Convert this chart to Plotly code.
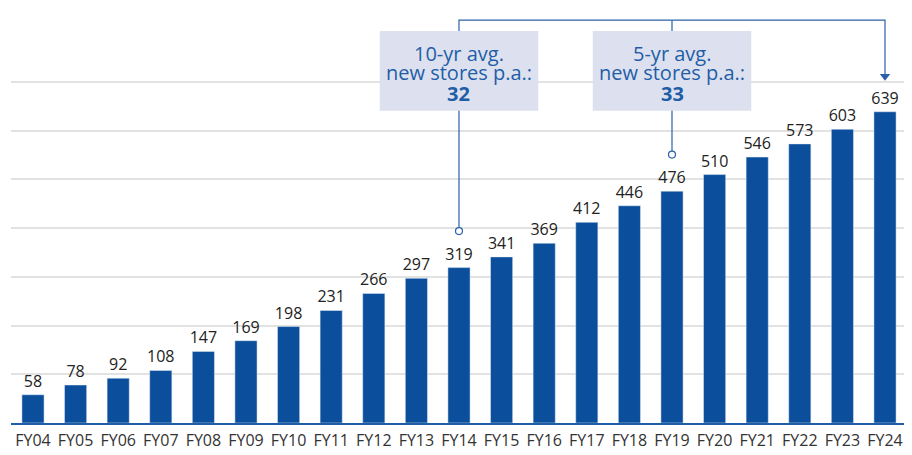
import plotly.graph_objects as go

years = ["FY04","FY05","FY06","FY07","FY08","FY09","FY10","FY11","FY12","FY13","FY14",
         "FY15","FY16","FY17","FY18","FY19","FY20","FY21","FY22","FY23","FY24"]
stores = [58,78,92,108,147,169,198,231,266,297,319,341,369,412,446,476,510,546,573,603,639]

callout_lines = [["10-yr avg.", "new stores p.a.:", "<b>32</b>"],
                 ["5-yr avg.", "new stores p.a.:", "<b>33</b>"]]
callout_years = ["FY14", "FY19"]
arrow_year = "FY24"

BAR = "#0b4f9c"
LINE = "#2a62a8"
TXT_BLUE = "#1f5ea6"
BOX = "#dde1ef"
FONT = "Open Sans"

idx = list(range(len(years)))
fig = go.Figure()
fig.add_trace(go.Bar(x=idx, y=stores, marker_color=BAR, width=0.52,
                     text=[str(v) for v in stores], textposition="outside",
                     constraintext="none",
                     textfont=dict(size=16, color="#222222", family=FONT),
                     cliponaxis=False, hoverinfo="skip"))

top_y = 827
i10 = years.index(callout_years[0]); i5 = years.index(callout_years[1]); ia = years.index(arrow_year)
circle_gap = 75
arrow_end = 712
fig.add_trace(go.Scatter(x=[i10, i10, ia, ia], y=[stores[i10] + circle_gap, top_y, top_y, arrow_end],
                         mode="lines", line=dict(color=LINE, width=1.2), hoverinfo="skip"))
fig.add_trace(go.Scatter(x=[i5, i5], y=[stores[i5] + circle_gap, top_y],
                         mode="lines", line=dict(color=LINE, width=1.2), hoverinfo="skip"))
fig.add_trace(go.Scatter(x=[i10, i5], y=[stores[i10] + circle_gap, stores[i5] + circle_gap],
                         mode="markers", marker=dict(symbol="circle", size=7, color="white",
                                                     line=dict(color=LINE, width=1.2)),
                         hoverinfo="skip"))
fig.add_trace(go.Scatter(x=[ia], y=[arrow_end], mode="markers",
                         marker=dict(symbol="triangle-down", size=9, color=LINE),
                         hoverinfo="skip", cliponaxis=False))

shapes = []
annotations = []
line_y = [759, 719, 677]
for yr, lines in zip(callout_years, callout_lines):
    i = years.index(yr)
    shapes.append(dict(type="rect", xref="x", yref="y", x0=i - 1.86, x1=i + 1.86,
                       y0=641, y1=805, fillcolor=BOX, line=dict(width=0), layer="above"))
    for ly, t in zip(line_y, lines):
        annotations.append(dict(x=i, y=ly, xref="x", yref="y", text=t, showarrow=False,
                                font=dict(size=20, color=TXT_BLUE, family=FONT),
                                align="center", yanchor="middle"))

fig.update_layout(
    width=896, height=447, margin=dict(l=3, r=0, t=0, b=32, autoexpand=False),
    paper_bgcolor="white", plot_bgcolor="white", showlegend=False,
    shapes=shapes, annotations=annotations,
    xaxis=dict(range=[-0.516, 20.446], tickvals=idx, ticktext=years, showgrid=False,
               showline=True, linecolor="#1f5ea6", linewidth=1.5, ticks="",
               automargin=False, ticklabelstandoff=2, ticklabeloverflow="allow",
               tickfont=dict(size=16, color="#333333", family=FONT), zeroline=False),
    yaxis=dict(range=[0, 852], tickvals=[100,200,300,400,500,600,700], showticklabels=False,
               automargin=False,
               showgrid=True, gridcolor="#e2e2e2", gridwidth=1.5, zeroline=False),
)
fig.write_html("out.html")
